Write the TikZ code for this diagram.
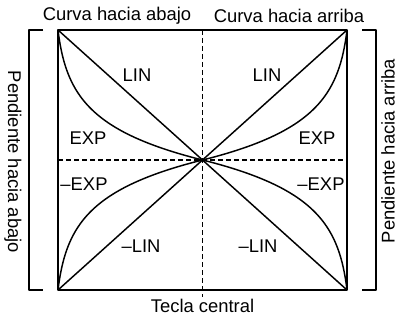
\documentclass[tikz,border=0pt]{standalone}
\usepackage{fontspec}
\setmainfont{Liberation Sans}
\usetikzlibrary{positioning}

\tikzset{
    curvelabel/.style={font=\fontsize{13.8}{15}\selectfont, inner sep=0pt},
    axislabel/.style={font=\fontsize{13.8}{15}\selectfont, inner sep=0pt},
    frameline/.style={line width=1.1pt},
    guideline/.style={line width=0.9pt, dash pattern=on 3.6pt off 2.4pt},
}

\begin{document}
\begin{tikzpicture}[x=0.75pt, y=-0.75pt, line join=round]
    \useasboundingbox (0,0) rectangle (399,321);

    % Corners and centre
    \coordinate (tl) at (58,30);
    \coordinate (tr) at (347,30);
    \coordinate (bl) at (58,290);
    \coordinate (br) at (347,290);
    \coordinate (c) at (202.5,160);
    \coordinate (cl) at (58,160);
    \coordinate (cr) at (347,160);
    \coordinate (ct) at (202.5,30);
    \coordinate (cb) at (202.5,297);

    % Dashed guides
    \draw[guideline] (cl) -- (cr);
    \draw[guideline] (ct) -- (cb);

    % Box
    \draw[frameline] (tl) rectangle (br);

    % Brackets
    \draw[frameline] (43,30) -- (29,30) -- (29,290) -- (43,290);
    \draw[frameline] (362,30) -- (376,30) -- (376,290) -- (362,290);

    % Linear slopes
    \draw[line width=1.1pt] (tl) -- (c) -- (br);
    \draw[line width=1.1pt] (bl) -- (c) -- (tr);

    % Exponential curves
    \draw[line width=1.1pt] plot[domain=0:1, samples=80, variable=\t]
        ({58+144.5*(exp(3.5*\t)-1)/(exp(3.5)-1)}, {30+130*\t});
    \draw[line width=1.1pt] plot[domain=0:1, samples=80, variable=\t]
        ({347-144.5*(exp(3.5*\t)-1)/(exp(3.5)-1)}, {30+130*\t});
    \draw[line width=1.1pt] plot[domain=0:1, samples=80, variable=\t]
        ({58+144.5*(exp(3.5*\t)-1)/(exp(3.5)-1)}, {290-130*\t});
    \draw[line width=1.1pt] plot[domain=0:1, samples=80, variable=\t]
        ({347-144.5*(exp(3.5*\t)-1)/(exp(3.5)-1)}, {290-130*\t});

    % Curve labels
    \node[curvelabel] (linTL) at (137,75) {LIN};
    \node[curvelabel] (expTL) at (88,138) {EXP};
    \node[curvelabel] (linTR) at (267,75) {LIN};
    \node[curvelabel] (expTR) at (317,138) {EXP};
    \node[curvelabel] (nexpBL) at (84,184) {\textendash EXP};
    \node[curvelabel] (nlinBL) at (141,246) {\textendash LIN};
    \node[curvelabel] (nexpBR) at (321,184) {\textendash EXP};
    \node[curvelabel] (nlinBR) at (258,246) {\textendash LIN};

    % Axis labels
    \node[axislabel] (down) at (117,16) {Curva hacia abajo};
    \node[axislabel] (up) at (289,16) {Curva hacia arriba};
    \node[axislabel] (key) at (202.5,306) {Tecla central};
    \node[axislabel, rotate=-90] (slopedown) at (13,162) {Pendiente hacia abajo};
    \node[axislabel, rotate=90] (slopeup) at (388,151) {Pendiente hacia arriba};
\end{tikzpicture}
\end{document}
